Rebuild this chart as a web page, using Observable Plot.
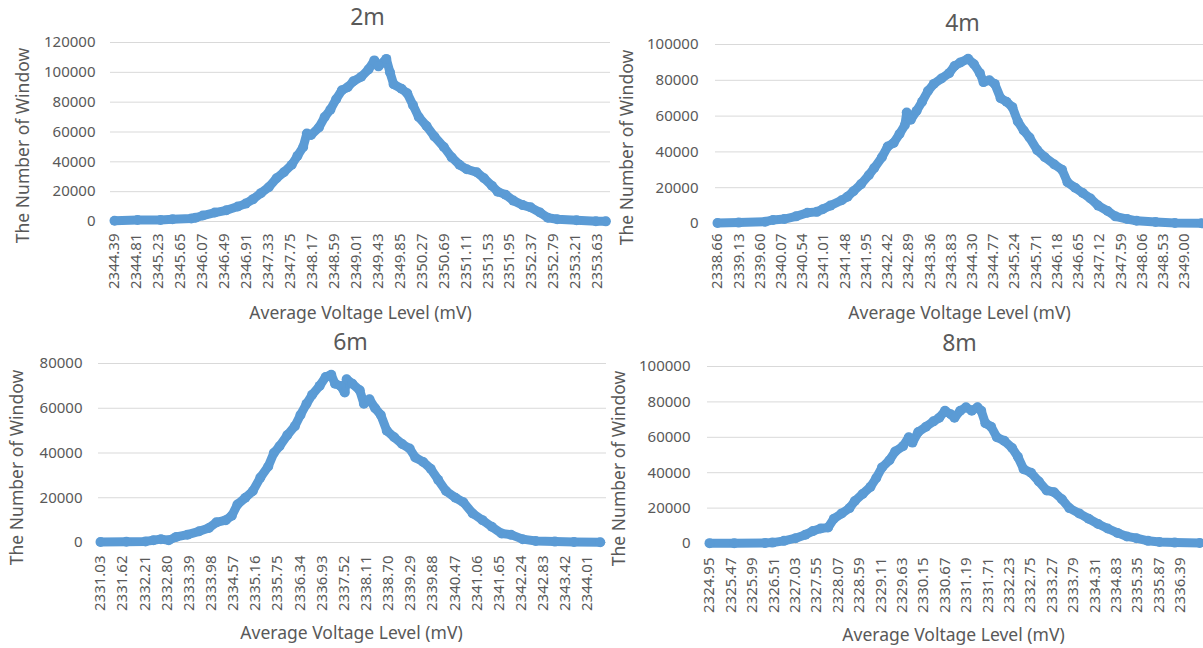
<!DOCTYPE html>
<html><head><meta charset="utf-8">
<script src="https://cdn.jsdelivr.net/npm/d3@7"></script>
<script src="https://cdn.jsdelivr.net/npm/@observablehq/plot@0.6"></script>
<style>
html,body{margin:0;padding:0;background:#fff;}
#wrap{position:relative;width:1203px;height:648px;overflow:hidden;background:#fff;}
.panel{position:absolute;}
</style></head><body><div id="wrap"></div>
<script>
const xTitle = "Average Voltage Level (mV)";
const yTitle = "The Number of Window";

// ---- 2m ----
const volt2m = [2344.39,2344.83,2345.27,2345.50,2345.86,2345.94,2346.08,2346.31,2346.53,2346.75,2346.90,2347.04,2347.19,2347.34,2347.49,2347.63,2347.78,2347.89,2348.00,2348.07,2348.15,2348.30,2348.41,2348.52,2348.63,2348.74,2348.85,2348.96,2349.11,2349.25,2349.36,2349.44,2349.59,2349.66,2349.73,2349.88,2349.99,2350.10,2350.21,2350.36,2350.51,2350.69,2350.84,2350.99,2351.13,2351.32,2351.46,2351.61,2351.72,2351.87,2352.02,2352.20,2352.35,2352.53,2352.68,2352.86,2353.23,2353.60,2353.79];
const count2m = [500,1000,1000,1500,2000,2500,4000,6000,7500,10000,12000,15000,19000,23000,29000,33000,38000,44000,50000,59000,58000,63000,70000,75000,82000,88000,90000,94000,97000,102000,108000,104000,109000,100000,92000,89000,86000,78000,70000,64000,57000,50000,43000,38000,35000,33000,29000,24000,20000,18000,14000,11000,9500,6000,2500,1500,800,200,100];
const xTicks2m = ["2344.39","2344.81","2345.23","2345.65","2346.07","2346.49","2346.91","2347.33","2347.75","2348.17","2348.59","2349.01","2349.43","2349.85","2350.27","2350.69","2351.11","2351.53","2351.95","2352.37","2352.79","2353.21","2353.63"];
const yTicks2m = [0,20000,40000,60000,80000,100000,120000];

// ---- 4m ----
const volt4m = [2338.66,2339.13,2339.72,2339.89,2340.14,2340.40,2340.65,2340.86,2340.99,2341.16,2341.41,2341.54,2341.67,2341.84,2342.01,2342.13,2342.30,2342.43,2342.56,2342.69,2342.81,2342.85,2342.94,2343.07,2343.19,2343.32,2343.45,2343.62,2343.79,2343.91,2344.04,2344.21,2344.34,2344.47,2344.55,2344.68,2344.80,2344.93,2345.06,2345.19,2345.31,2345.44,2345.57,2345.74,2345.91,2346.12,2346.29,2346.41,2346.58,2346.75,2346.92,2347.09,2347.30,2347.47,2347.73,2347.94,2348.36,2348.79,2349.38];
const count4m = [300,500,1000,2000,2500,4000,6000,6500,8000,10000,13000,15000,18000,22000,27000,31000,37000,43000,45000,50000,55000,62000,58000,63000,68000,74000,78000,81000,84000,88000,90000,92000,89000,84000,79000,80000,78000,70000,68000,65000,57000,52000,48000,41000,37000,33000,30000,23000,20000,17000,14000,10000,7000,4000,2500,1500,800,300,100];
const xTicks4m = ["2338.66","2339.13","2339.60","2340.07","2340.54","2341.01","2341.48","2341.95","2342.42","2342.89","2343.36","2343.83","2344.30","2344.77","2345.24","2345.71","2346.18","2346.65","2347.12","2347.59","2348.06","2348.53","2349.00"];
const yTicks4m = [0,20000,40000,60000,80000,100000];

// ---- 6m ----
const volt6m = [2331.03,2331.72,2332.23,2332.44,2332.64,2332.85,2333.05,2333.35,2333.66,2333.92,2334.12,2334.37,2334.53,2334.68,2334.89,2335.09,2335.29,2335.50,2335.65,2335.80,2336.01,2336.21,2336.36,2336.52,2336.67,2336.87,2337.03,2337.18,2337.28,2337.43,2337.54,2337.59,2337.74,2337.94,2338.05,2338.20,2338.35,2338.50,2338.66,2338.86,2339.07,2339.27,2339.42,2339.63,2339.83,2340.03,2340.24,2340.49,2340.70,2340.95,2341.21,2341.46,2341.72,2341.97,2342.28,2342.63,2343.14,2343.65,2344.35];
const count6m = [200,300,500,1000,1500,1000,2500,3500,5000,6500,9000,10000,12000,17000,20000,23000,29000,34000,40000,43000,48000,52000,57000,62000,66000,70000,74000,75000,71000,70000,67000,73000,71000,68000,62000,64000,60000,57000,50000,47000,44000,42000,38000,36000,33000,28000,23000,20000,18000,13000,10000,7000,4000,3500,1500,700,400,200,100];
const xTicks6m = ["2331.03","2331.62","2332.21","2332.80","2333.39","2333.98","2334.57","2335.16","2335.75","2336.34","2336.93","2337.52","2338.11","2338.70","2339.29","2339.88","2340.47","2341.06","2341.65","2342.24","2342.83","2343.42","2344.01"];
const yTicks6m = [0,20000,40000,60000,80000];

// ---- 8m ----
const volt8m = [2324.95,2325.55,2326.30,2326.48,2326.76,2327.04,2327.28,2327.46,2327.65,2327.83,2327.97,2328.16,2328.35,2328.48,2328.67,2328.86,2329.00,2329.14,2329.32,2329.46,2329.65,2329.79,2329.88,2330.02,2330.21,2330.39,2330.53,2330.67,2330.81,2330.90,2331.04,2331.18,2331.32,2331.46,2331.55,2331.65,2331.79,2331.93,2332.11,2332.30,2332.44,2332.58,2332.76,2332.95,2333.14,2333.32,2333.51,2333.69,2333.93,2334.16,2334.39,2334.62,2334.86,2335.09,2335.32,2335.60,2335.88,2336.25,2336.86];
const count8m = [200,200,300,500,1500,3000,5000,7000,8500,9000,14000,17000,20000,24000,28000,32000,37000,43000,47000,52000,55000,60000,57000,63000,66000,69000,71000,75000,73000,71000,75000,77000,75000,77000,75000,68000,66000,60000,58000,54000,49000,42000,40000,35000,30000,29000,25000,20000,17000,14000,11000,8500,6000,4000,3000,1500,800,500,300];
const xTicks8m = ["2324.95","2325.47","2325.99","2326.51","2327.03","2327.55","2328.07","2328.59","2329.11","2329.63","2330.15","2330.67","2331.19","2331.71","2332.23","2332.75","2333.27","2333.79","2334.31","2334.83","2335.35","2335.87","2336.39"];
const yTicks8m = [0,20000,40000,60000,80000,100000];

const lineColor = "#5B9BD5";
const textColor = "#595959";
const gridColor = "#D9D9D9";
const font = "'Noto Sans', sans-serif";

function panel(o) {
  const rows = o.volt.map((v, i) => ({v, n: o.count[i]}));
  const ticksX = o.xTicks.map(Number);
  const chart = Plot.plot({
    width: o.width, height: o.height,
    marginLeft: o.ml, marginRight: o.mr, marginTop: o.mt, marginBottom: o.mb,
    style: {fontFamily: font, color: textColor, background: "transparent", overflow: "visible"},
    x: {domain: o.xDomain},
    y: {domain: [0, o.yTicks[o.yTicks.length - 1]]},
    marks: [
      Plot.gridY(o.yTicks, {stroke: gridColor, strokeOpacity: 1, strokeWidth: 1}),
      Plot.axisY(o.yTicks, {tickSize: 0, tickPadding: o.yPad, tickFormat: d3.format("d"), fontSize: 15, label: null, fill: textColor}),
      Plot.axisX(ticksX, {tickSize: 0, tickPadding: o.xPad, tickRotate: -90, tickFormat: d3.format(".2f"), fontSize: 15, label: null, fill: textColor}),
      Plot.line(rows, {x: "v", y: "n", stroke: lineColor, strokeWidth: 9, strokeLinejoin: "round", strokeLinecap: "round"}),
      Plot.dot(rows, {x: "v", y: "n", r: 5, fill: lineColor, stroke: null}),
      Plot.text([o.title], {frameAnchor: "top-left", dx: o.titleX - o.ml, dy: o.titleY - o.mt, textAnchor: "middle", lineAnchor: "middle", fontSize: 23, fill: textColor}),
      Plot.text([yTitle], {frameAnchor: "top-left", dx: o.yLabX - o.ml, dy: o.yLabY - o.mt, rotate: -90, textAnchor: "middle", lineAnchor: "middle", fontSize: 17.5, fill: textColor}),
      Plot.text([xTitle], {frameAnchor: "top-left", dx: o.xLabX - o.ml, dy: o.xLabY - o.mt, textAnchor: "middle", lineAnchor: "middle", fontSize: 17.5, fill: textColor})
    ]
  });
  chart.classList.add("panel");
  chart.style.left = o.left + "px";
  chart.style.top = o.top + "px";
  document.getElementById("wrap").appendChild(chart);
}

panel({title: "2m", volt: volt2m, count: count2m, xTicks: xTicks2m, yTicks: yTicks2m,
  left: 0, top: 0, width: 612, height: 324, ml: 110, mr: 2, mt: 42, mb: 103,
  xDomain: [2344.313, 2353.879], yPad: 15, xPad: 12,
  titleX: 367, titleY: 17, yLabX: 23, yLabY: 145, xLabX: 360, xLabY: 313});

panel({title: "4m", volt: volt4m, count: count4m, xTicks: xTicks4m, yTicks: yTicks4m,
  left: 600, top: 0, width: 603, height: 324, ml: 115, mr: 0, mt: 44, mb: 101,
  xDomain: [2338.616, 2349.422], yPad: 17, xPad: 10,
  titleX: 362, titleY: 23, yLabX: 27, yLabY: 147, xLabX: 359, xLabY: 313});

panel({title: "6m", volt: volt6m, count: count6m, xTicks: xTicks6m, yTicks: yTicks6m,
  left: 0, top: 324, width: 606, height: 324, ml: 98, mr: 0, mt: 39, mb: 106,
  xDomain: [2330.977, 2344.516], yPad: 16, xPad: 13,
  titleX: 350, titleY: 18, yLabX: 17, yLabY: 143, xLabX: 351, xLabY: 309});

panel({title: "8m", volt: volt8m, count: count8m, xTicks: xTicks8m, yTicks: yTicks8m,
  left: 600, top: 324, width: 603, height: 324, ml: 107, mr: 0, mt: 42, mb: 105,
  xDomain: [2324.901, 2336.949], yPad: 17, xPad: 14,
  titleX: 359, titleY: 19, yLabX: 19, yLabY: 144, xLabX: 353, xLabY: 311});
</script>
</body></html>
